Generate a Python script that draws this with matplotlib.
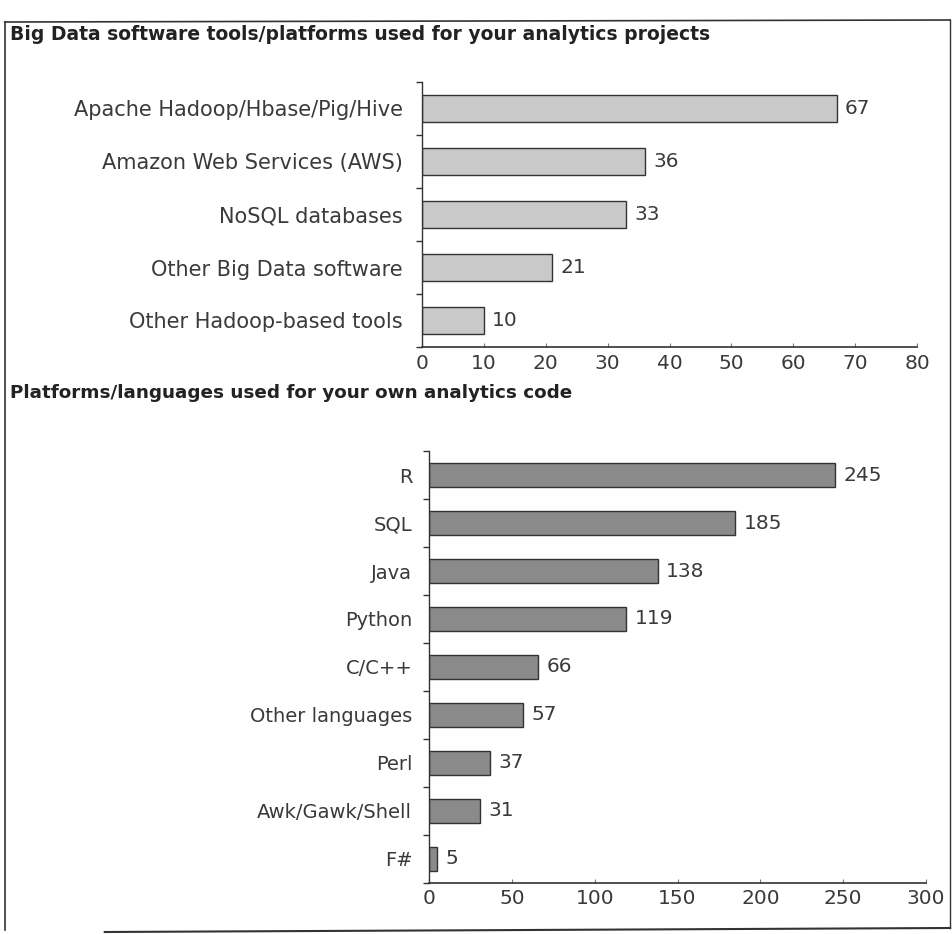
import matplotlib
matplotlib.use("Agg")
from matplotlib import pyplot as plt
from matplotlib.lines import Line2D
import numpy as np

# top chart data
bigdata_tools = ["Apache Hadoop/Hbase/Pig/Hive", "Amazon Web Services (AWS)",
                 "NoSQL databases", "Other Big Data software",
                 "Other Hadoop-based tools"]
bigdata_counts = [67, 36, 33, 21, 10]
bigdata_ticks = [0, 10, 20, 30, 40, 50, 60, 70, 80]

# bottom chart data
languages = ["R", "SQL", "Java", "Python", "C/C++", "Other languages",
             "Perl", "Awk/Gawk/Shell", "F#"]
language_counts = [245, 185, 138, 119, 66, 57, 37, 31, 5]
language_ticks = [0, 50, 100, 150, 200, 250, 300]

txt = "#3a3a3a"
H = 934.0
fig = plt.figure(figsize=(9.52, 9.34), dpi=100)

def draw(ax, names, vals, ticks, color, barh, ypad, xpad, namesize):
    n = len(names)
    y = np.arange(n)
    ax.barh(y, vals, height=barh, color=color, edgecolor="#333333", linewidth=1.0)
    ax.set_ylim(n - 0.5, -0.5)
    ax.set_xlim(ticks[0], ticks[-1])
    ax.set_yticks(y)
    ax.set_yticklabels(names, fontsize=namesize, color=txt)
    ax.set_yticks(np.arange(n + 1) - 0.5, minor=True)
    ax.tick_params(axis="y", which="major", length=0, pad=ypad)
    ax.tick_params(axis="y", which="minor", length=4, width=1, color="#333333")
    ax.set_xticks(ticks)
    ax.set_xticklabels([str(t) for t in ticks], fontsize=14.5, color=txt)
    ax.tick_params(axis="x", direction="in", length=3, width=0.8, pad=xpad, color="#777777")
    for s in ["top", "right"]:
        ax.spines[s].set_visible(False)
    ax.spines["left"].set_color("#333333")
    ax.spines["bottom"].set_color("#333333")
    ax.spines["left"].set_linewidth(1.0)
    ax.spines["bottom"].set_linewidth(1.2)
    for yi, v in zip(y, vals):
        ax.annotate(str(v), (v, yi), xytext=(6, 0), textcoords="offset points",
                    va="center", ha="left", fontsize=14.5, color=txt)

ax1 = fig.add_axes([422 / 952, 1 - 347 / H, 495 / 952, 265 / H])
draw(ax1, bigdata_tools, bigdata_counts, bigdata_ticks, "#c9c9c9", 0.51, 14, 5, 15)

ax2 = fig.add_axes([429 / 952, 1 - 883 / H, 497 / 952, 432 / H])
draw(ax2, languages, language_counts, language_ticks, "#8b8a8a", 0.52, 12, 4, 14)

fig.text(10 / 952, 1 - 34 / H, "Big Data software tools/platforms used for your analytics projects",
         fontsize=13.5, fontweight="bold", color="#222222", va="center", ha="left")
fig.text(10 / 952, 1 - 393 / H, "Platforms/languages used for your own analytics code",
         fontsize=13.2, fontweight="bold", color="#222222", va="center", ha="left")

# page frame lines from the scan
fig.add_artist(Line2D([0.005, 0.998], [1 - 22 / H, 1 - 20 / H], color="#333333", lw=1.2))
fig.add_artist(Line2D([0.005, 0.005], [1 - 22 / H, 1 - 930 / H], color="#333333", lw=1.2))
fig.add_artist(Line2D([0.998, 0.998], [1 - 20 / H, 1 - 928 / H], color="#333333", lw=1.0))
fig.add_artist(Line2D([0.11, 0.998], [1 - 932 / H, 1 - 928 / H], color="#333333", lw=1.5))

fig.savefig("out.png", dpi=100, facecolor="white")
